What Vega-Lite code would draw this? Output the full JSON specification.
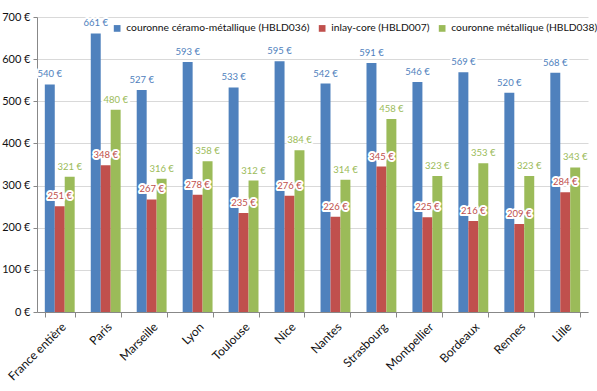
{
  "$schema": "https://vega.github.io/schema/vega-lite/v6.json",
  "width": 551,
  "height": 295,
  "autosize": "none",
  "padding": {"left": 37, "top": 17, "right": 9, "bottom": 79},
  "background": "white",
  "config": {
    "view": {"stroke": null},
    "font": "Lato",
    "axis": {"labelFont": "Lato", "labelColor": "#222", "labelFontSize": 10},
    "legend": {"labelFont": "Lato"},
    "text": {"font": "Lato"}
  },
  "data": {
    "values": [
      {"ville": "France entière", "serie": "couronne céramo-métallique (HBLD036)", "valeur": 540},
      {"ville": "France entière", "serie": "inlay-core (HBLD007)", "valeur": 251},
      {"ville": "France entière", "serie": "couronne métallique (HBLD038)", "valeur": 321},
      {"ville": "Paris", "serie": "couronne céramo-métallique (HBLD036)", "valeur": 661},
      {"ville": "Paris", "serie": "inlay-core (HBLD007)", "valeur": 348},
      {"ville": "Paris", "serie": "couronne métallique (HBLD038)", "valeur": 480},
      {"ville": "Marseille", "serie": "couronne céramo-métallique (HBLD036)", "valeur": 527},
      {"ville": "Marseille", "serie": "inlay-core (HBLD007)", "valeur": 267},
      {"ville": "Marseille", "serie": "couronne métallique (HBLD038)", "valeur": 316},
      {"ville": "Lyon", "serie": "couronne céramo-métallique (HBLD036)", "valeur": 593},
      {"ville": "Lyon", "serie": "inlay-core (HBLD007)", "valeur": 278},
      {"ville": "Lyon", "serie": "couronne métallique (HBLD038)", "valeur": 358},
      {"ville": "Toulouse", "serie": "couronne céramo-métallique (HBLD036)", "valeur": 533},
      {"ville": "Toulouse", "serie": "inlay-core (HBLD007)", "valeur": 235},
      {"ville": "Toulouse", "serie": "couronne métallique (HBLD038)", "valeur": 312},
      {"ville": "Nice", "serie": "couronne céramo-métallique (HBLD036)", "valeur": 595},
      {"ville": "Nice", "serie": "inlay-core (HBLD007)", "valeur": 276},
      {"ville": "Nice", "serie": "couronne métallique (HBLD038)", "valeur": 384},
      {"ville": "Nantes", "serie": "couronne céramo-métallique (HBLD036)", "valeur": 542},
      {"ville": "Nantes", "serie": "inlay-core (HBLD007)", "valeur": 226},
      {"ville": "Nantes", "serie": "couronne métallique (HBLD038)", "valeur": 314},
      {"ville": "Strasbourg", "serie": "couronne céramo-métallique (HBLD036)", "valeur": 591},
      {"ville": "Strasbourg", "serie": "inlay-core (HBLD007)", "valeur": 345},
      {"ville": "Strasbourg", "serie": "couronne métallique (HBLD038)", "valeur": 458},
      {"ville": "Montpellier", "serie": "couronne céramo-métallique (HBLD036)", "valeur": 546},
      {"ville": "Montpellier", "serie": "inlay-core (HBLD007)", "valeur": 225},
      {"ville": "Montpellier", "serie": "couronne métallique (HBLD038)", "valeur": 323},
      {"ville": "Bordeaux", "serie": "couronne céramo-métallique (HBLD036)", "valeur": 569},
      {"ville": "Bordeaux", "serie": "inlay-core (HBLD007)", "valeur": 216},
      {"ville": "Bordeaux", "serie": "couronne métallique (HBLD038)", "valeur": 353},
      {"ville": "Rennes", "serie": "couronne céramo-métallique (HBLD036)", "valeur": 520},
      {"ville": "Rennes", "serie": "inlay-core (HBLD007)", "valeur": 209},
      {"ville": "Rennes", "serie": "couronne métallique (HBLD038)", "valeur": 323},
      {"ville": "Lille", "serie": "couronne céramo-métallique (HBLD036)", "valeur": 568},
      {"ville": "Lille", "serie": "inlay-core (HBLD007)", "valeur": 284},
      {"ville": "Lille", "serie": "couronne métallique (HBLD038)", "valeur": 343}
    ]
  },
  "transform": [{"calculate": "datum.valeur + ' €'", "as": "etiquette"}],
  "encoding": {
    "x": {
      "field": "ville", "type": "nominal", "sort": null, "title": null,
      "scale": {"paddingInner": 0.35, "paddingOuter": 0.17},
      "axis": {"labelAngle": -45, "labelAlign": "right", "labelBaseline": "top", "labelFontSize": 12, "labelPadding": 4, "tickBand": "extent", "tickSize": 5, "tickColor": "#888", "domainColor": "#888", "labelColor": "#111"}
    },
    "xOffset": {
      "field": "serie", "type": "nominal",
      "sort": ["couronne céramo-métallique (HBLD036)", "inlay-core (HBLD007)", "couronne métallique (HBLD038)"],
      "scale": {"paddingInner": 0, "paddingOuter": 0}
    },
    "y": {
      "field": "valeur", "type": "quantitative", "title": null,
      "scale": {"domain": [0, 700], "nice": false},
      "axis": {"values": [0, 100, 200, 300, 400, 500, 600, 700], "labelExpr": "datum.value + ' €'", "gridColor": "#d9d9d9", "domainColor": "#888", "tickColor": "#888", "tickSize": 4, "labelPadding": 3, "labelFontSize": 11, "labelColor": "#111"}
    },
    "color": {
      "field": "serie", "type": "nominal",
      "scale": {
        "domain": ["couronne céramo-métallique (HBLD036)", "inlay-core (HBLD007)", "couronne métallique (HBLD038)"],
        "range": ["#4f81bd", "#c0504d", "#9bbb59"]
      },
      "legend": {
        "title": null, "orient": "none", "direction": "horizontal", "legendX": 75, "legendY": 6,
        "symbolType": "square", "symbolSize": 45, "symbolStrokeWidth": 0, "labelFontSize": 10.3, "labelLimit": 0, "labelColor": "#111", "columnPadding": 7, "labelOffset": 4
      }
    }
  },
  "layer": [
    {"mark": {"type": "bar"}},
    {
      "mark": {"type": "text", "dy": -5, "baseline": "bottom", "fontSize": 9.5, "stroke": "white", "strokeWidth": 4, "strokeJoin": "round"},
      "encoding": {"text": {"field": "etiquette"}, "color": {"value": "white"}}
    },
    {
      "mark": {"type": "text", "dy": -5, "baseline": "bottom", "fontSize": 9.5},
      "encoding": {"text": {"field": "etiquette"}}
    }
  ]
}
